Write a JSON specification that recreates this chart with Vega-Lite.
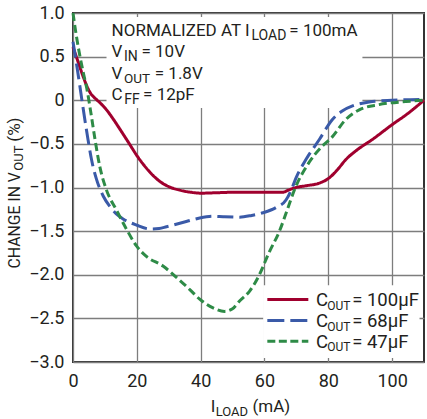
{
  "$schema": "https://vega.github.io/schema/vega-lite/v6.json",
  "width": 351,
  "height": 349,
  "autosize": {"type": "none"},
  "padding": {"left": 73, "top": 13, "right": 3, "bottom": 57},
  "background": "white",
  "config": {
    "view": {"stroke": "#333333", "strokeWidth": 2},
    "text": {"font": "Roboto", "color": "#231f20", "align": "left", "baseline": "alphabetic"}
  },
  "layer": [
    {
      "data": {"values": [{"series": "68"}]},
      "mark": {"type": "rect", "fill": "white"},
      "encoding": {
        "x": {"datum": 10.5, "type": "quantitative", "scale": {"domain": [0, 110], "nice": false, "zero": false},
          "axis": {"values": [0, 20, 40, 60, 80, 100], "grid": true, "gridColor": "#7d7d7d", "gridWidth": 1.3, "ticks": false, "domain": false, "labelFont": "Roboto", "labelFontSize": 18, "labelColor": "#231f20", "labelPadding": 10, "labelFlush": false, "labelOverlap": false, "title": null}},
        "x2": {"datum": 90.7},
        "y": {"datum": 0.953, "type": "quantitative", "scale": {"domain": [-3, 1], "nice": false, "zero": false},
          "axis": {"values": [-3, -2.5, -2, -1.5, -1, -0.5, 0, 0.5, 1], "grid": true, "gridColor": "#7d7d7d", "gridWidth": 1.3, "ticks": false, "domain": false, "labelFont": "Roboto", "labelFontSize": 18, "labelColor": "#231f20", "labelPadding": 9, "labelFlush": false, "labelOverlap": false, "labelExpr": "datum.value == 0 ? '0' : format(datum.value, '.1f')", "title": null}},
        "y2": {"datum": -0.09}
      }
    },
    {
      "data": {"values": [{"series": "68"}]},
      "mark": {"type": "rect", "fill": "white"},
      "encoding": {
        "x": {"datum": 59.6, "type": "quantitative"},
        "x2": {"datum": 108.6},
        "y": {"datum": -2.12, "type": "quantitative"},
        "y2": {"datum": -2.955}
      }
    },
    {
      "data": {"values": [
        {"series": "100", "mA": 0, "val": 0.61},
        {"series": "100", "mA": 1.5, "val": 0.45},
        {"series": "100", "mA": 3.2, "val": 0.27},
        {"series": "100", "mA": 4.5, "val": 0.15},
        {"series": "100", "mA": 5.5, "val": 0.08},
        {"series": "100", "mA": 7, "val": 0.02},
        {"series": "100", "mA": 8.5, "val": -0.03},
        {"series": "100", "mA": 10.5, "val": -0.11},
        {"series": "100", "mA": 12.5, "val": -0.21},
        {"series": "100", "mA": 14.5, "val": -0.32},
        {"series": "100", "mA": 16.8, "val": -0.45},
        {"series": "100", "mA": 20.9, "val": -0.68},
        {"series": "100", "mA": 24, "val": -0.82},
        {"series": "100", "mA": 27.2, "val": -0.93},
        {"series": "100", "mA": 30, "val": -0.99},
        {"series": "100", "mA": 33.4, "val": -1.03},
        {"series": "100", "mA": 37, "val": -1.055},
        {"series": "100", "mA": 40, "val": -1.065},
        {"series": "100", "mA": 45, "val": -1.06},
        {"series": "100", "mA": 50, "val": -1.055},
        {"series": "100", "mA": 55, "val": -1.055},
        {"series": "100", "mA": 60, "val": -1.055},
        {"series": "100", "mA": 65.7, "val": -1.055},
        {"series": "100", "mA": 67.5, "val": -1.03},
        {"series": "100", "mA": 69.9, "val": -1.0},
        {"series": "100", "mA": 73, "val": -0.98},
        {"series": "100", "mA": 77.2, "val": -0.95},
        {"series": "100", "mA": 80.3, "val": -0.89},
        {"series": "100", "mA": 83, "val": -0.79},
        {"series": "100", "mA": 85.5, "val": -0.68},
        {"series": "100", "mA": 89, "val": -0.57},
        {"series": "100", "mA": 93.8, "val": -0.45},
        {"series": "100", "mA": 100, "val": -0.28},
        {"series": "100", "mA": 105, "val": -0.15},
        {"series": "100", "mA": 110, "val": 0.0},
        {"series": "68", "mA": 0, "val": 0.67},
        {"series": "68", "mA": 1, "val": 0.44},
        {"series": "68", "mA": 2, "val": 0.2},
        {"series": "68", "mA": 3, "val": -0.05},
        {"series": "68", "mA": 4, "val": -0.29},
        {"series": "68", "mA": 4.7, "val": -0.45},
        {"series": "68", "mA": 5.8, "val": -0.68},
        {"series": "68", "mA": 7.4, "val": -0.91},
        {"series": "68", "mA": 9.5, "val": -1.1},
        {"series": "68", "mA": 11.6, "val": -1.22},
        {"series": "68", "mA": 13.5, "val": -1.3},
        {"series": "68", "mA": 15.7, "val": -1.36},
        {"series": "68", "mA": 19.9, "val": -1.43},
        {"series": "68", "mA": 24.1, "val": -1.475},
        {"series": "68", "mA": 27, "val": -1.47},
        {"series": "68", "mA": 29.3, "val": -1.45},
        {"series": "68", "mA": 35.5, "val": -1.39},
        {"series": "68", "mA": 39.7, "val": -1.35},
        {"series": "68", "mA": 43.9, "val": -1.33},
        {"series": "68", "mA": 47, "val": -1.335},
        {"series": "68", "mA": 52.2, "val": -1.34},
        {"series": "68", "mA": 56, "val": -1.32},
        {"series": "68", "mA": 59.5, "val": -1.29},
        {"series": "68", "mA": 63.6, "val": -1.23},
        {"series": "68", "mA": 66.8, "val": -1.14},
        {"series": "68", "mA": 68.5, "val": -1.02},
        {"series": "68", "mA": 69.9, "val": -0.89},
        {"series": "68", "mA": 73, "val": -0.68},
        {"series": "68", "mA": 77.2, "val": -0.45},
        {"series": "68", "mA": 81.3, "val": -0.22},
        {"series": "68", "mA": 84.5, "val": -0.12},
        {"series": "68", "mA": 87.6, "val": -0.065},
        {"series": "68", "mA": 92.8, "val": -0.02},
        {"series": "68", "mA": 100, "val": 0.0},
        {"series": "68", "mA": 110, "val": 0.01},
        {"series": "47", "mA": 0, "val": 1.0},
        {"series": "47", "mA": 1, "val": 0.75},
        {"series": "47", "mA": 2.2, "val": 0.5},
        {"series": "47", "mA": 3.2, "val": 0.32},
        {"series": "47", "mA": 4.3, "val": 0.14},
        {"series": "47", "mA": 5.8, "val": -0.19},
        {"series": "47", "mA": 6.9, "val": -0.45},
        {"series": "47", "mA": 8.4, "val": -0.76},
        {"series": "47", "mA": 10.5, "val": -1.03},
        {"series": "47", "mA": 13.5, "val": -1.25},
        {"series": "47", "mA": 16.8, "val": -1.48},
        {"series": "47", "mA": 19.9, "val": -1.67},
        {"series": "47", "mA": 23, "val": -1.79},
        {"series": "47", "mA": 28.2, "val": -1.9},
        {"series": "47", "mA": 32.4, "val": -2.03},
        {"series": "47", "mA": 36.6, "val": -2.17},
        {"series": "47", "mA": 39.7, "val": -2.28},
        {"series": "47", "mA": 43.9, "val": -2.38},
        {"series": "47", "mA": 47.5, "val": -2.42},
        {"series": "47", "mA": 50, "val": -2.39},
        {"series": "47", "mA": 52.2, "val": -2.3},
        {"series": "47", "mA": 55.3, "val": -2.19},
        {"series": "47", "mA": 58, "val": -2.03},
        {"series": "47", "mA": 61.5, "val": -1.74},
        {"series": "47", "mA": 64.7, "val": -1.5},
        {"series": "47", "mA": 67.2, "val": -1.25},
        {"series": "47", "mA": 69.7, "val": -1.0},
        {"series": "47", "mA": 73.5, "val": -0.74},
        {"series": "47", "mA": 78, "val": -0.53},
        {"series": "47", "mA": 81, "val": -0.43},
        {"series": "47", "mA": 85.5, "val": -0.22},
        {"series": "47", "mA": 89.7, "val": -0.11},
        {"series": "47", "mA": 95.9, "val": -0.05},
        {"series": "47", "mA": 104.3, "val": -0.015},
        {"series": "47", "mA": 110, "val": 0.0}
      ]},
      "mark": {"type": "line", "strokeWidth": 3, "interpolate": "monotone"},
      "encoding": {
        "x": {"field": "mA", "type": "quantitative"},
        "y": {"field": "val", "type": "quantitative"},
        "color": {"field": "series", "type": "nominal", "scale": {"domain": ["100", "68", "47"], "range": ["#a0002e", "#3a5aa8", "#2e8b47"]}, "legend": null},
        "strokeDash": {"field": "series", "type": "nominal", "scale": {"domain": ["100", "68", "47"], "range": [[1, 0], [16, 6], [8, 4]]}, "legend": null}
      }
    },
    {"data": {"values": [{}]}, "mark": {"type": "rule", "strokeWidth": 3, "color": "#a0002e"},
     "encoding": {"x": {"datum": 60.9, "type": "quantitative"}, "x2": {"datum": 73.75}, "y": {"datum": -2.284, "type": "quantitative"}}},
    {"data": {"values": [{}]}, "mark": {"type": "rule", "strokeWidth": 3, "color": "#3a5aa8", "strokeDash": [17, 6]},
     "encoding": {"x": {"datum": 60.9, "type": "quantitative"}, "x2": {"datum": 73.75}, "y": {"datum": -2.524, "type": "quantitative"}}},
    {"data": {"values": [{}]}, "mark": {"type": "rule", "strokeWidth": 3, "color": "#2e8b47", "strokeDash": [8, 3.5]},
     "encoding": {"x": {"datum": 60.9, "type": "quantitative"}, "x2": {"datum": 73.75}, "y": {"datum": -2.762, "type": "quantitative"}}},

    {"data": {"values": [{}]}, "mark": {"type": "text", "text": "C", "fontSize": 18.5}, "encoding": {"x": {"datum": 76.16, "type": "quantitative"}, "y": {"datum": -2.36, "type": "quantitative"}}},
    {"data": {"values": [{}]}, "mark": {"type": "text", "text": "OUT", "fontSize": 12}, "encoding": {"x": {"datum": 79.7, "type": "quantitative"}, "y": {"datum": -2.4, "type": "quantitative"}}},
    {"data": {"values": [{}]}, "mark": {"type": "text", "text": "= 100µF", "fontSize": 18.5}, "encoding": {"x": {"datum": 87.5, "type": "quantitative"}, "y": {"datum": -2.36, "type": "quantitative"}}},
    {"data": {"values": [{}]}, "mark": {"type": "text", "text": "C", "fontSize": 18.5}, "encoding": {"x": {"datum": 76.16, "type": "quantitative"}, "y": {"datum": -2.6, "type": "quantitative"}}},
    {"data": {"values": [{}]}, "mark": {"type": "text", "text": "OUT", "fontSize": 12}, "encoding": {"x": {"datum": 79.7, "type": "quantitative"}, "y": {"datum": -2.64, "type": "quantitative"}}},
    {"data": {"values": [{}]}, "mark": {"type": "text", "text": "= 68µF", "fontSize": 18.5}, "encoding": {"x": {"datum": 87.5, "type": "quantitative"}, "y": {"datum": -2.6, "type": "quantitative"}}},
    {"data": {"values": [{}]}, "mark": {"type": "text", "text": "C", "fontSize": 18.5}, "encoding": {"x": {"datum": 76.16, "type": "quantitative"}, "y": {"datum": -2.836, "type": "quantitative"}}},
    {"data": {"values": [{}]}, "mark": {"type": "text", "text": "OUT", "fontSize": 12}, "encoding": {"x": {"datum": 79.7, "type": "quantitative"}, "y": {"datum": -2.876, "type": "quantitative"}}},
    {"data": {"values": [{}]}, "mark": {"type": "text", "text": "= 47µF", "fontSize": 18.5}, "encoding": {"x": {"datum": 87.5, "type": "quantitative"}, "y": {"datum": -2.836, "type": "quantitative"}}},

    {"data": {"values": [{}]}, "mark": {"type": "text", "text": "NORMALIZED AT I", "fontSize": 17}, "encoding": {"x": {"datum": 12.09, "type": "quantitative"}, "y": {"datum": 0.74, "type": "quantitative"}}},
    {"data": {"values": [{}]}, "mark": {"type": "text", "text": "LOAD", "fontSize": 14}, "encoding": {"x": {"datum": 55.94, "type": "quantitative"}, "y": {"datum": 0.6945, "type": "quantitative"}}},
    {"data": {"values": [{}]}, "mark": {"type": "text", "text": "= 100mA", "fontSize": 17}, "encoding": {"x": {"datum": 67.8, "type": "quantitative"}, "y": {"datum": 0.74, "type": "quantitative"}}},
    {"data": {"values": [{}]}, "mark": {"type": "text", "text": "V", "fontSize": 17}, "encoding": {"x": {"datum": 12.09, "type": "quantitative"}, "y": {"datum": 0.493, "type": "quantitative"}}},
    {"data": {"values": [{}]}, "mark": {"type": "text", "text": "IN", "fontSize": 14}, "encoding": {"x": {"datum": 16.0, "type": "quantitative"}, "y": {"datum": 0.447, "type": "quantitative"}}},
    {"data": {"values": [{}]}, "mark": {"type": "text", "text": "= 10V", "fontSize": 17}, "encoding": {"x": {"datum": 21.47, "type": "quantitative"}, "y": {"datum": 0.493, "type": "quantitative"}}},
    {"data": {"values": [{}]}, "mark": {"type": "text", "text": "V", "fontSize": 17}, "encoding": {"x": {"datum": 12.09, "type": "quantitative"}, "y": {"datum": 0.245, "type": "quantitative"}}},
    {"data": {"values": [{}]}, "mark": {"type": "text", "text": "OUT", "fontSize": 13.5}, "encoding": {"x": {"datum": 16.0, "type": "quantitative"}, "y": {"datum": 0.199, "type": "quantitative"}}},
    {"data": {"values": [{}]}, "mark": {"type": "text", "text": "= 1.8V", "fontSize": 17}, "encoding": {"x": {"datum": 25.63, "type": "quantitative"}, "y": {"datum": 0.245, "type": "quantitative"}}},
    {"data": {"values": [{}]}, "mark": {"type": "text", "text": "C", "fontSize": 17}, "encoding": {"x": {"datum": 12.09, "type": "quantitative"}, "y": {"datum": -0.001, "type": "quantitative"}}},
    {"data": {"values": [{}]}, "mark": {"type": "text", "text": "FF", "fontSize": 14}, "encoding": {"x": {"datum": 16.1, "type": "quantitative"}, "y": {"datum": -0.047, "type": "quantitative"}}},
    {"data": {"values": [{}]}, "mark": {"type": "text", "text": "= 12pF", "fontSize": 17}, "encoding": {"x": {"datum": 21.97, "type": "quantitative"}, "y": {"datum": -0.001, "type": "quantitative"}}},

    {"data": {"values": [{}]}, "mark": {"type": "text", "text": "CHANGE IN V", "fontSize": 15.8, "angle": 270}, "encoding": {"x": {"datum": -16.56, "type": "quantitative"}, "y": {"datum": -1.929, "type": "quantitative"}}},
    {"data": {"values": [{}]}, "mark": {"type": "text", "text": "OUT", "fontSize": 13, "angle": 270}, "encoding": {"x": {"datum": -15.78, "type": "quantitative"}, "y": {"datum": -0.808, "type": "quantitative"}}},
    {"data": {"values": [{}]}, "mark": {"type": "text", "text": "(%)", "fontSize": 17, "angle": 270}, "encoding": {"x": {"datum": -16.56, "type": "quantitative"}, "y": {"datum": -0.475, "type": "quantitative"}}},

    {"data": {"values": [{}]}, "mark": {"type": "text", "text": "I", "fontSize": 17}, "encoding": {"x": {"datum": 43.2, "type": "quantitative"}, "y": {"datum": -3.577, "type": "quantitative"}}},
    {"data": {"values": [{}]}, "mark": {"type": "text", "text": "LOAD", "fontSize": 13}, "encoding": {"x": {"datum": 44.7, "type": "quantitative"}, "y": {"datum": -3.617, "type": "quantitative"}}},
    {"data": {"values": [{}]}, "mark": {"type": "text", "text": "(mA)", "fontSize": 17}, "encoding": {"x": {"datum": 56.25, "type": "quantitative"}, "y": {"datum": -3.577, "type": "quantitative"}}}
  ]
}
